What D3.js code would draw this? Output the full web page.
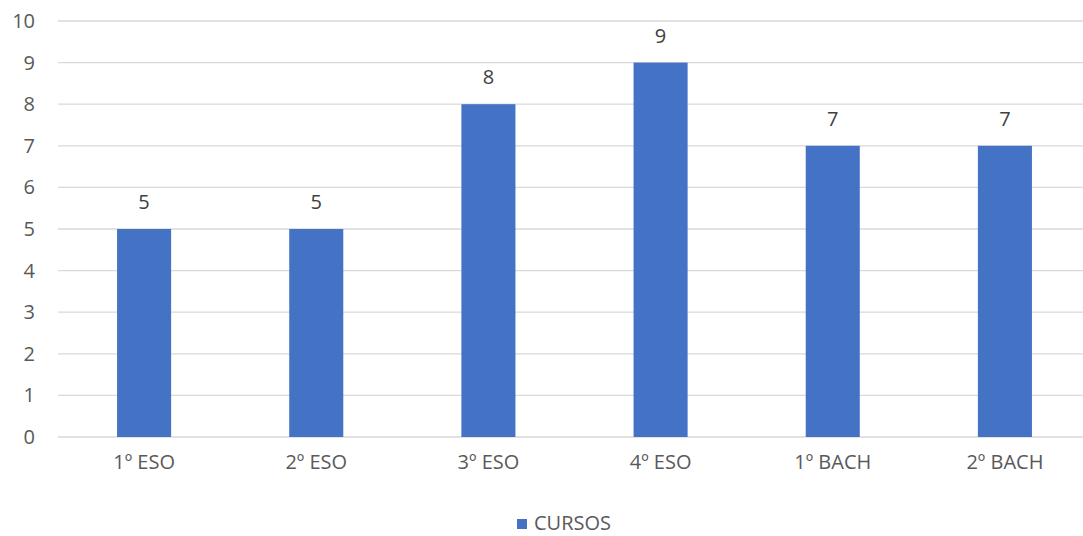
<!DOCTYPE html>
<html>
<head>
<meta charset="utf-8">
<script src="https://cdn.jsdelivr.net/npm/d3@7"></script>
<style>
body { margin: 0; background: #fff; }
svg text { font-family: "Open Sans", Lato, sans-serif; }
</style>
</head>
<body>
<div id="grafico"></div>
<script>
var cursos = ["1º ESO", "2º ESO", "3º ESO", "4º ESO", "1º BACH", "2º BACH"];
var valores = [5, 5, 8, 9, 7, 7];
var ticksY = [0, 1, 2, 3, 4, 5, 6, 7, 8, 9, 10];
var serie = "CURSOS";

var w = 1083, h = 536;
var svg = d3.select("#grafico").append("svg")
        .attr("width", w)
        .attr("height", h);

var margin = {top: 21, right: -8, bottom: 99, left: 58};
var width = w - margin.left - margin.right;
var height = h - margin.top - margin.bottom;

var x = d3.scaleBand().domain(cursos).range([0, width])
        .paddingInner(0.686).paddingOuter(0.343);
var y = d3.scaleLinear().domain([0, 10]).range([height, 0]);

var g = svg.append("g")
        .attr("transform", "translate(" + margin.left + "," + margin.top + ")");

// rejilla
g.selectAll(".grid")
        .data(ticksY)
        .enter().append("line")
        .attr("x1", 0)
        .attr("x2", width)
        .attr("y1", function (d) { return y(d); })
        .attr("y2", function (d) { return y(d); })
        .attr("stroke", "#d9d9d9")
        .attr("stroke-width", 1.3);

// eje y
var ejeY = g.append("g")
        .call(d3.axisLeft(y).tickValues(ticksY).tickSize(0).tickPadding(23));
ejeY.select(".domain").remove();
ejeY.selectAll("text")
        .attr("fill", "#595959")
        .style("font-size", "20px");

// eje x
var ejeX = g.append("g")
        .attr("transform", "translate(0," + height + ")")
        .call(d3.axisBottom(x).tickSize(0).tickPadding(18));
ejeX.select(".domain").remove();
ejeX.selectAll("text")
        .attr("fill", "#595959")
        .style("font-size", "20px");

// barras
g.selectAll(".bar")
        .data(valores)
        .enter().append("rect")
        .attr("class", "bar")
        .attr("x", function (d, i) { return x(cursos[i]); })
        .attr("y", function (d) { return y(d); })
        .attr("width", x.bandwidth())
        .attr("height", function (d) { return height - y(d); })
        .attr("fill", "#4472c4");

// etiquetas
g.selectAll(".etiqueta")
        .data(valores)
        .enter().append("text")
        .attr("class", "etiqueta")
        .attr("text-anchor", "middle")
        .attr("x", function (d, i) { return x(cursos[i]) + x.bandwidth() / 2; })
        .attr("y", function (d) { return y(d) - 20; })
        .attr("fill", "#404040")
        .style("font-size", "20px")
        .text(function (d) { return d; });

// leyenda
var leyenda = svg.append("g")
        .attr("transform", "translate(517,519)");
leyenda.append("rect")
        .attr("width", 10)
        .attr("height", 10)
        .attr("fill", "#4472c4");
leyenda.append("text")
        .attr("x", 17)
        .attr("y", 11)
        .attr("fill", "#595959")
        .style("font-size", "20px")
        .text(serie);
</script>
</body>
</html>
